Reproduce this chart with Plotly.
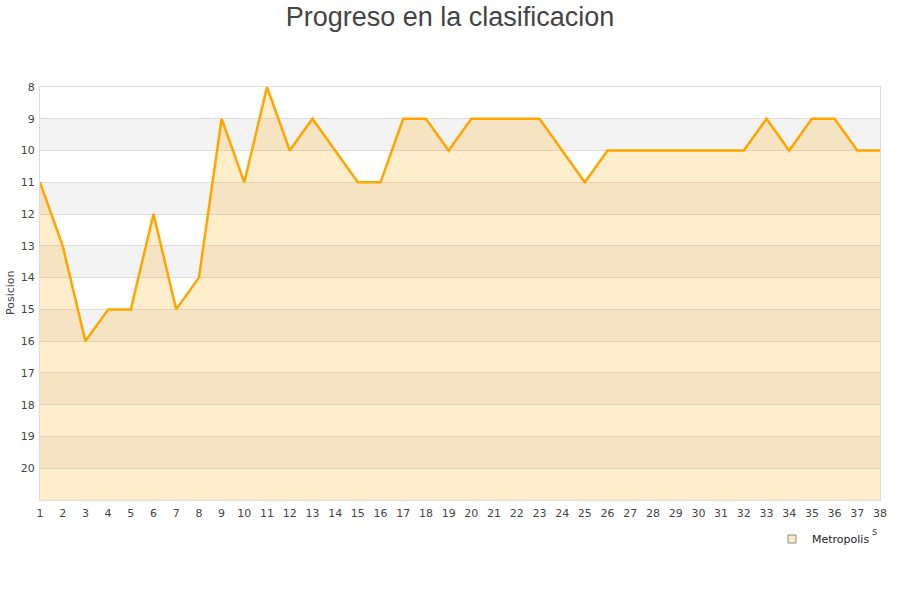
import plotly.graph_objects as go

jornadas = list(range(1, 39))
posiciones = [11, 13, 16, 15, 15, 12, 15, 14, 9, 11, 8, 10, 9, 10, 11, 11, 9, 9, 10, 9,
              9, 9, 9, 10, 11, 10, 10, 10, 10, 10, 10, 10, 9, 10, 9, 9, 10, 10]
equipo = "Metropolis"
y_ticks = list(range(8, 21))
y_min, y_max = 8, 21

fig = go.Figure()

# baseline for fill
fig.add_trace(go.Scatter(x=jornadas, y=[y_max] * len(jornadas), mode="lines",
                         line=dict(width=0, color="rgba(0,0,0,0)"),
                         showlegend=False, hoverinfo="skip"))
fig.add_trace(go.Scatter(x=jornadas, y=posiciones, mode="lines", name=equipo,
                         line=dict(color="#FFA500", width=2.5),
                         fill="tonexty", fillcolor="rgba(255,165,0,0.2)",
                         showlegend=False))
fig.add_trace(go.Scatter(x=[None], y=[None], mode="markers", name=equipo,
                         marker=dict(symbol="square", size=8, color="#FFEBC8",
                                     line=dict(color="#888888", width=1))))

shapes = []
for k in range(9, 21, 2):
    shapes.append(dict(type="rect", xref="paper", yref="y", x0=0, x1=1, y0=k, y1=k + 1,
                       fillcolor="#F3F3F3", line=dict(width=0), layer="below"))
fig.update_layout(shapes=shapes)

fig.add_annotation(text="s", xref="paper", yref="paper", x=(874 - 40) / 840, y=(500 - 531) / 413,
                   showarrow=False, xanchor="center", yanchor="middle",
                   font=dict(size=10, color="#444"))
fig.add_annotation(text="Posicion", xref="paper", yref="paper", x=(10 - 40) / 840, y=(500 - 293) / 413,
                   textangle=-90, showarrow=False, xanchor="center", yanchor="middle",
                   font=dict(size=11, color="#444"))

fig.update_layout(
    width=900, height=600,
    paper_bgcolor="white", plot_bgcolor="white",
    margin=dict(l=40, r=20, t=87, b=100),
    font=dict(family="DejaVu Sans", size=11, color="#444"),
    title=dict(text="Progreso en la clasificacion", x=0.5, xanchor="center",
               y=0.973, yanchor="middle",
               font=dict(family="Liberation Sans, Arial", size=27, color="#444")),
    xaxis=dict(range=[1, 38], tickmode="array", tickvals=jornadas, ticktext=[str(j) for j in jornadas],
               showgrid=False, zeroline=False, showline=True, linecolor="#dddddd", mirror=True,
               ticks="outside", ticklen=3, tickcolor="rgba(0,0,0,0)", automargin=False,
               tickfont=dict(size=11, color="#444")),
    yaxis=dict(range=[y_max, y_min], tickmode="array", tickvals=y_ticks,
               showgrid=True, gridcolor="#dddddd", gridwidth=1, zeroline=False,
               showline=True, linecolor="#dddddd", mirror=True, ticks="outside", ticklen=2,
               tickcolor="rgba(0,0,0,0)", automargin=False,
               tickfont=dict(size=11, color="#444")),
    legend=dict(x=(772 - 40) / 840, y=(500 - 539) / 413, xanchor="left", yanchor="middle",
                itemwidth=30, bgcolor="rgba(0,0,0,0)", font=dict(size=11, color="#222")),
)

fig.write_html("out.html", config={"displayModeBar": False},
               post_script="document.body.style.margin='0';")
